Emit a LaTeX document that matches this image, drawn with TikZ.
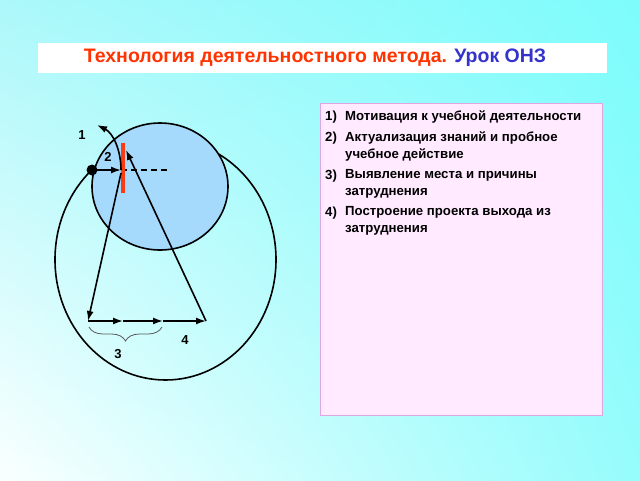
\documentclass[tikz,border=0pt]{standalone}
\usepackage{fontspec}
\setmainfont{Liberation Sans}
\usetikzlibrary{positioning, arrows.meta, decorations.pathreplacing, calc, shadings}
\definecolor{titlered}{RGB}{255,51,0}
\definecolor{titleblue}{RGB}{51,51,204}
\definecolor{barred}{RGB}{250,60,20}
\definecolor{discfill}{RGB}{166,218,252}
\definecolor{listfill}{RGB}{255,234,255}
\definecolor{listedge}{RGB}{225,165,225}
\definecolor{bgul}{RGB}{172,248,250}
\definecolor{bgur}{RGB}{125,252,252}
\definecolor{bgll}{RGB}{250,255,255}
\definecolor{bglr}{RGB}{150,252,252}
\tikzset{
    arr/.style={-{Latex[length=10pt,width=7pt]}, line width=1.6pt},
    mark label/.style={font=\bfseries\fontsize{13}{15}\selectfont},
    list item/.style={anchor=base west, align=left, inner sep=0pt,
        font=\bfseries\fontsize{13.2}{17}\selectfont}
}

\begin{document}
\begin{tikzpicture}[x=1pt, y=-1pt]
    \useasboundingbox (0,0) rectangle (640,480);
    \shade[upper left=bgul, upper right=bgur, lower left=bgll, lower right=bglr]
        (0,0) rectangle (640,480);
    \fill[white] (38,43) rectangle (607,73);
    \node[font=\bfseries\fontsize{19.5}{22}\selectfont] (title) at (315,58)
        {\textcolor{titlered}{Технология деятельностного метода.} \textcolor{titleblue}{Урок ОНЗ}};
    \draw[listedge, fill=listfill, line width=1pt] (320,103) rectangle (602,415);
    \node[list item] (k1) at (325,120) {1)};
    \node[list item] (t1) at (345,120) {Мотивация к учебной деятельности};
    \node[list item] (k2) at (325,141) {2)};
    \node[list item] (t2) at (345,158) {Актуализация знаний и пробное\\учебное действие};
    \node[list item] (k3) at (325,179) {3)};
    \node[list item] (t3) at (345,195) {Выявление места и причины\\затруднения};
    \node[list item] (k4) at (325,216) {4)};
    \node[list item] (t4) at (345,232) {Построение проекта выхода из\\затруднения};

    \draw[line width=1.6pt] (165.5,259.6) ellipse [x radius=110.5, y radius=120.4];
    \draw[line width=1.6pt, fill=discfill] (160,186.5) ellipse [x radius=68, y radius=63.5];

    \coordinate (dot) at (92,170);
    \coordinate (bar) at (121,170);
    \coordinate (barlow) at (121,173);
    \coordinate (bartip) at (126,150);
    \coordinate (dashend) at (168,170);
    \coordinate (bl) at (88,321);
    \coordinate (s1) at (123,321);
    \coordinate (s2) at (163,321);
    \coordinate (br) at (206,321);
    \coordinate (up) at (97,125);

    \draw[dash pattern=on 6pt off 4pt, line width=1.6pt] (bar) -- (dashend);
    \draw[barred, line width=4.5pt] (123,143) -- (123,193);
    \fill (dot) circle (5.5);
    \draw[arr] (dot) -- (bar);
    \draw[arr] (bar) .. controls (121,150) and (113,133) .. (up);
    \draw[arr] (barlow) -- (bl);
    \draw[arr] (bl) -- (s1);
    \draw[arr] (s1) -- (s2);
    \draw[arr] (s2) -- (br);
    \draw[arr] (br) -- (bartip);
    \draw[decorate, decoration={brace, mirror, amplitude=14pt}, line width=0.8pt, black!65]
        (89,327) -- (162,327);

    \node[mark label] (n1) at (82,135) {1};
    \node[mark label] (n2) at (108,157) {2};
    \node[mark label] (n3) at (118,354) {3};
    \node[mark label] (n4) at (185,340) {4};
\end{tikzpicture}
\end{document}
